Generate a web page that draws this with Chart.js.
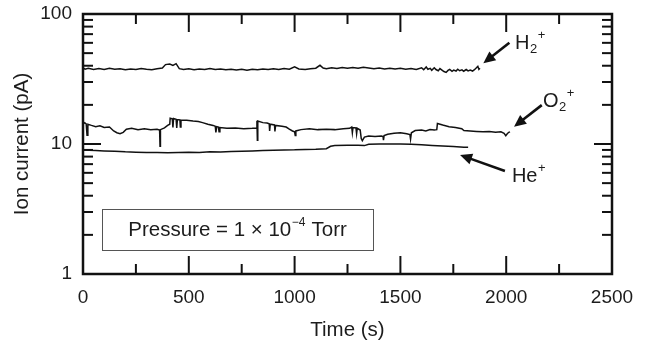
<!DOCTYPE html>
<html><head><meta charset="utf-8">
<script src="https://cdn.jsdelivr.net/npm/chart.js@4.4.0/dist/chart.umd.min.js"></script>
<style>html,body{margin:0;padding:0;background:#fff;}#wrap{width:647px;height:345px;}</style>
</head><body><div id="wrap"><canvas id="c" width="647" height="345"></canvas></div>
<script>
// ---- data ----
const xTickValues = [0, 500, 1000, 1500, 2000, 2500];
const xMinorTickValues = [250, 750, 1250, 1750, 2250];
const yTickValues = [1, 10, 100];
const yMinorTickValues = [2, 3, 4, 5, 6, 7, 8, 9, 20, 30, 40, 50, 60, 70, 80, 90];

// [time (s), ion current (pA)]
const h2Series = [[0,38.5],[10,37.6],[25,38.2],[50,37.4],[75,38.0],[100,37.5],[125,38.3],[150,37.6],[175,37.9],[200,37.2],[225,37.8],[250,37.4],[275,38.1],[300,37.6],[325,37.3],[350,37.9],[375,38.4],[390,40.8],[410,41.2],[425,40.2],[440,41.5],[455,38.0],[475,37.4],[500,37.9],[525,37.3],[550,37.8],[575,37.5],[600,38.0],[625,37.4],[650,37.7],[675,37.2],[700,37.6],[725,37.1],[750,37.5],[775,36.9],[800,37.6],[825,37.3],[850,37.8],[875,37.4],[900,37.9],[925,37.5],[950,38.1],[975,37.6],[1000,39.2],[1020,37.8],[1050,37.4],[1075,37.9],[1100,38.3],[1120,40.3],[1135,38.4],[1150,38.0],[1175,38.6],[1200,38.1],[1225,38.8],[1250,38.3],[1275,38.7],[1300,38.2],[1325,38.9],[1350,38.5],[1375,37.9],[1400,38.4],[1425,37.8],[1450,38.3],[1475,37.7],[1500,38.2],[1525,37.6],[1550,38.0],[1575,37.4],[1600,38.6],[1610,37.3],[1622,39.1],[1630,37.6],[1641,38.2],[1648,36.9],[1660,38.6],[1668,37.4],[1679,36.6],[1687,38.0],[1698,36.9],[1706,36.1],[1716,35.5],[1725,36.8],[1733,37.5],[1744,36.2],[1752,37.0],[1763,36.4],[1771,37.6],[1780,36.6],[1791,37.2],[1799,36.3],[1811,37.4],[1820,36.5],[1830,37.0],[1841,36.4],[1850,37.3],[1858,38.4],[1866,39.6],[1871,37.5],[1876,38.2]];

const o2Series = [[0,14.2],[8,14.6],[15,14.3],[19,11.7],[23,14.2],[40,13.9],[60,13.6],[80,13.8],[100,13.4],[125,13.5],[145,12.6],[160,12.2],[175,12.0],[190,12.3],[205,13.0],[230,13.2],[260,12.9],[290,13.1],[320,12.9],[350,13.0],[362,12.8],[364,9.6],[366,12.9],[385,13.3],[400,13.9],[410,14.2],[412,15.8],[422,15.6],[425,13.4],[428,15.7],[440,15.5],[443,13.3],[446,15.4],[458,15.3],[460,13.5],[463,15.3],[490,15.2],[520,15.0],[545,14.9],[565,14.6],[590,14.2],[615,13.9],[625,13.7],[628,12.3],[632,13.6],[640,13.5],[643,12.4],[647,13.4],[680,13.2],[720,13.3],[760,13.1],[800,13.2],[820,13.3],[822,15.1],[824,10.7],[826,15.0],[850,14.6],[870,14.5],[880,14.3],[882,12.6],[885,14.2],[905,14.0],[907,12.5],[910,13.9],[940,13.7],[960,13.5],[975,13.0],[990,12.6],[1000,12.4],[1003,11.6],[1006,12.6],[1030,12.9],[1070,13.1],[1110,12.9],[1150,13.0],[1190,12.9],[1230,13.1],[1260,13.2],[1270,13.5],[1273,12.2],[1276,13.4],[1290,13.3],[1293,12.0],[1296,13.2],[1310,12.8],[1315,11.0],[1320,10.6],[1330,11.3],[1350,11.5],[1380,11.4],[1410,11.5],[1418,11.4],[1420,10.7],[1423,11.6],[1440,11.9],[1470,12.1],[1500,12.2],[1530,12.0],[1545,11.8],[1548,10.9],[1552,12.2],[1570,12.7],[1600,12.8],[1620,12.6],[1640,12.9],[1660,12.8],[1672,12.9],[1675,14.4],[1700,14.0],[1730,13.6],[1760,13.4],[1790,13.1],[1800,12.7],[1830,12.6],[1860,12.5],[1890,12.4],[1920,12.5],[1950,12.3],[1975,12.4],[1990,12.1],[1998,11.6],[2005,12.0],[2012,12.3],[2018,12.4]];

const heSeries = [[0,9.05],[30,8.95],[60,8.9],[100,8.85],[150,8.8],[200,8.7],[250,8.65],[300,8.6],[350,8.62],[400,8.58],[450,8.6],[500,8.65],[550,8.62],[600,8.7],[650,8.68],[700,8.75],[750,8.8],[800,8.85],[850,8.9],[900,8.95],[950,9.0],[1000,9.02],[1050,9.08],[1100,9.12],[1150,9.2],[1170,9.6],[1190,9.75],[1250,9.78],[1300,9.8],[1330,9.72],[1350,9.95],[1400,10.0],[1450,10.02],[1500,10.0],[1550,9.95],[1600,9.85],[1650,9.75],[1700,9.65],[1750,9.55],[1800,9.45],[1820,9.45]];

const seriesNames = ['H2+', 'O2+', 'He+'];

// ---- annotations (in data coordinates) ----
const ionAnnotations = [
  {base:'H',  sub:'2', sup:'+', at:[2042, 59.8], from:[2015, 60.1], to:[1892, 41.8]},
  {base:'O',  sub:'2', sup:'+', at:[2174, 21.2], from:[2168, 19.9], to:[2037, 13.6]},
  {base:'He', sub:'',  sup:'+', at:[2027, 5.6],  from:[1994, 6.2],  to:[1782, 8.23]}
];
const pressureBox = {t0: 90, t1: 1371, v0: 3.16, v1: 1.53};
const pressureText = {pre: 'Pressure = 1 \u00d7 10', sup: '\u22124', post: ' Torr'};

const FONT = '"Liberation Sans", Arial, sans-serif';
const TXT = '#1c1c1c';

const frameTicks = {
  id: 'frameTicks',
  afterDatasetsDraw(chart) {
    const {ctx, chartArea: {left, right, top, bottom}, scales: {x, y}} = chart;
    ctx.save();
    ctx.strokeStyle = '#111';
    ctx.lineWidth = 2;
    const seg = (x1, y1, x2, y2) => { ctx.beginPath(); ctx.moveTo(x1, y1); ctx.lineTo(x2, y2); ctx.stroke(); };
    xTickValues.forEach(v => { const p = x.getPixelForValue(v); seg(p, bottom, p, bottom - 18); seg(p, top, p, top + 18); });
    xMinorTickValues.forEach(v => { const p = x.getPixelForValue(v); seg(p, bottom, p, bottom - 10); seg(p, top, p, top + 10); });
    yTickValues.forEach(v => { const p = y.getPixelForValue(v); seg(left, p, left + 18, p); seg(right, p, right - 18, p); });
    yMinorTickValues.forEach(v => { const p = y.getPixelForValue(v); seg(left, p, left + 10, p); seg(right, p, right - 10, p); });
    ctx.lineWidth = 2.5;
    ctx.strokeRect(left, top, right - left, bottom - top);

    // arrows + ion labels
    ionAnnotations.forEach(a => {
      const fx = x.getPixelForValue(a.from[0]), fy = y.getPixelForValue(a.from[1]);
      const tx = x.getPixelForValue(a.to[0]), ty = y.getPixelForValue(a.to[1]);
      const ang = Math.atan2(ty - fy, tx - fx);
      const hl = 12, hw = 5.5;
      const bx = tx - hl * Math.cos(ang), by = ty - hl * Math.sin(ang);
      ctx.lineWidth = 2.6;
      ctx.strokeStyle = '#111';
      seg(fx, fy, bx + 2 * Math.cos(ang), by + 2 * Math.sin(ang));
      ctx.fillStyle = '#111';
      ctx.beginPath();
      ctx.moveTo(tx, ty);
      ctx.lineTo(bx - hw * Math.sin(ang), by + hw * Math.cos(ang));
      ctx.lineTo(bx + hw * Math.sin(ang), by - hw * Math.cos(ang));
      ctx.closePath();
      ctx.fill();

      let lx = x.getPixelForValue(a.at[0]);
      const ly = y.getPixelForValue(a.at[1]);
      ctx.fillStyle = TXT;
      ctx.textBaseline = 'middle';
      ctx.textAlign = 'left';
      ctx.font = '20px ' + FONT;
      ctx.fillText(a.base, lx, ly);
      lx += ctx.measureText(a.base).width + 0.5;
      ctx.font = '13px ' + FONT;
      if (a.sub) { ctx.fillText(a.sub, lx, ly + 6); lx += ctx.measureText(a.sub).width + 0.5; }
      ctx.fillText(a.sup, lx, ly - 8);
    });

    // pressure box
    const bx0 = x.getPixelForValue(pressureBox.t0), bx1 = x.getPixelForValue(pressureBox.t1);
    const by0 = y.getPixelForValue(pressureBox.v0), by1 = y.getPixelForValue(pressureBox.v1);
    ctx.fillStyle = '#fff';
    ctx.fillRect(bx0, by0, bx1 - bx0, by1 - by0);
    ctx.lineWidth = 1;
    ctx.strokeStyle = '#555';
    ctx.strokeRect(Math.round(bx0) + 0.5, Math.round(by0) + 0.5, Math.round(bx1 - bx0), Math.round(by1 - by0));
    ctx.font = '20.5px ' + FONT;
    const w1 = ctx.measureText(pressureText.pre).width, w3 = ctx.measureText(pressureText.post).width;
    ctx.font = '12px ' + FONT;
    const w2 = ctx.measureText(pressureText.sup).width + 1;
    let px = (bx0 + bx1) / 2 - (w1 + w2 + w3) / 2;
    const py = (by0 + by1) / 2 + 1;
    ctx.fillStyle = TXT;
    ctx.textAlign = 'left';
    ctx.textBaseline = 'middle';
    ctx.font = '20.5px ' + FONT;
    ctx.fillText(pressureText.pre, px, py);
    px += w1;
    ctx.font = '12px ' + FONT;
    ctx.fillText(pressureText.sup, px + 0.5, py - 8);
    px += w2;
    ctx.font = '20.5px ' + FONT;
    ctx.fillText(pressureText.post, px, py);
    ctx.restore();
  }
};

const toXY = s => s.map(([t, v]) => ({x: t, y: v}));
const lineStyle = {borderColor: '#111', borderWidth: 1.5, pointRadius: 0, tension: 0, fill: false};

new Chart(document.getElementById('c'), {
  type: 'line',
  data: {
    datasets: [
      Object.assign({label: seriesNames[0], data: toXY(h2Series)}, lineStyle),
      Object.assign({label: seriesNames[1], data: toXY(o2Series)}, lineStyle),
      Object.assign({label: seriesNames[2], data: toXY(heSeries)}, lineStyle)
    ]
  },
  options: {
    responsive: false,
    animation: false,
    devicePixelRatio: 1,
    layout: {padding: {left: 0, top: 14, right: 35, bottom: 0}},
    plugins: {legend: {display: false}, tooltip: {enabled: false}},
    scales: {
      x: {
        type: 'linear', min: 0, max: 2500,
        afterBuildTicks: s => { s.ticks = xTickValues.map(v => ({value: v})); },
        afterFit: s => { s.height = 71; s.paddingLeft = 0; s.paddingRight = 0; },
        grid: {display: false}, border: {display: false},
        ticks: {font: {family: FONT, size: 19}, color: TXT, padding: 4, maxRotation: 0, callback: v => String(v)},
        title: {display: true, text: 'Time (s)', font: {family: FONT, size: 20.5}, color: TXT, padding: {top: 0, bottom: 2}}
      },
      y: {
        type: 'logarithmic', min: 1, max: 100,
        afterBuildTicks: s => { s.ticks = yTickValues.map(v => ({value: v})); },
        afterFit: s => { s.width = 83; s.paddingTop = 0; s.paddingBottom = 0; },
        grid: {display: false}, border: {display: false},
        ticks: {font: {family: FONT, size: 19}, color: TXT, padding: 3, callback: v => String(v)},
        title: {display: true, text: 'Ion current (pA)', font: {family: FONT, size: 20.5}, color: TXT, padding: {top: 10.5, bottom: 0}}
      }
    }
  },
  plugins: [frameTicks]
});
</script>
</body></html>
